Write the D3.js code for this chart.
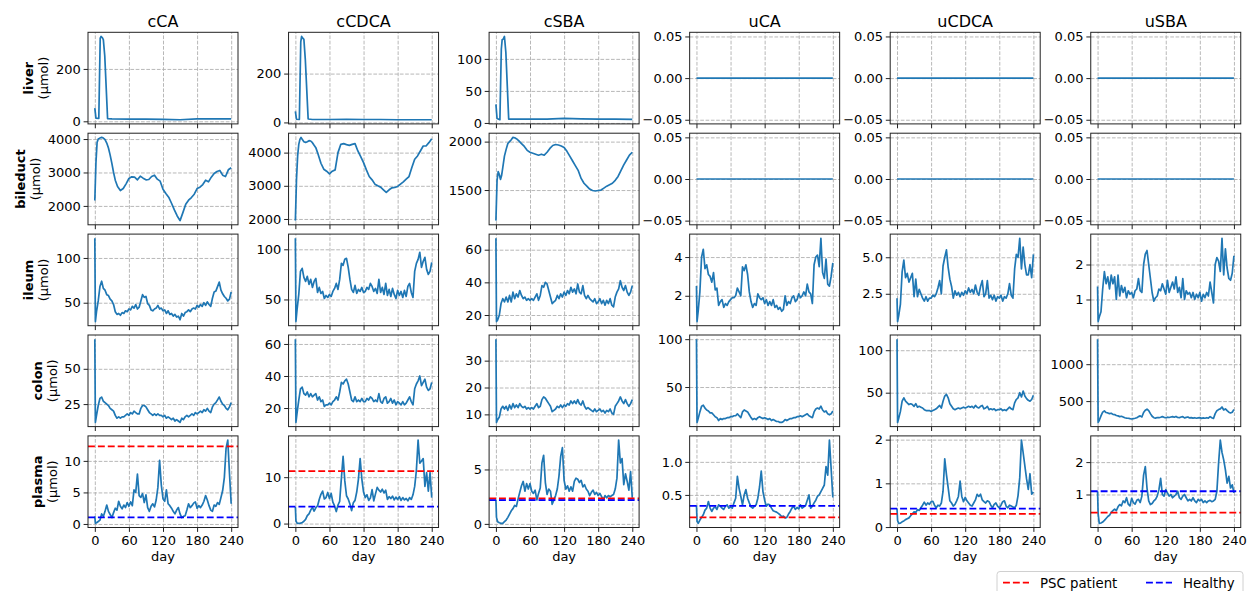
<!DOCTYPE html>
<html><head><meta charset="utf-8">
<script src="https://cdn.jsdelivr.net/npm/d3@7"></script>
<style>
body{margin:0;background:#fff;}
svg text{font-family:"DejaVu Sans",sans-serif;fill:#000;}
</style></head><body><svg id="c" width="1247" height="591"></svg>
<script>
// ---------------- data ----------------
const columns = ["cCA","cCDCA","cSBA","uCA","uCDCA","uSBA"];
const rows = ["liver","bileduct","ileum","colon","plasma"];
const dayTicks = [0,60,120,180,240];

const liverDays = [0,2,7,9.5,11,13,15,17.5,22.5,30,60,90,120,150,180,210,240];
const liverCCA   = [50,12,11,318,324,320,312,250,10,9,8.5,8,7.5,6,9,9.5,9];
const liverCCDCA = [45,13,12,330,352,345,340,258,14,12,12,13,12,12,11,11,11];
const liverCSBA  = [29,7,5,115,130,131,135,110,6,6,6,6,7,6.5,6,6,5.5];

const bileDays = [0,2,4,6,8,10,12,15,18,21,24,27,30,33,36,40,45,50,55,60,65,70,75,80,85,90,95,100,105,110,115,120,125,130,135,140,145,150,155,160,165,170,175,180,185,190,195,200,205,210,215,220,225,230,235,240];
const bileCCA = [2160,3300,3900,4000,4020,4040,4050,4030,3980,3880,3730,3520,3270,3000,2770,2580,2460,2520,2660,2820,2870,2860,2780,2890,2830,2780,2790,2880,2920,2800,2740,2500,2370,2260,2080,1880,1700,1560,1800,2050,2170,2250,2350,2520,2560,2640,2770,2720,2860,2970,3030,3060,2920,2880,3080,3140];
const bileCCDCA = [1950,3200,3900,4250,4400,4460,4400,4330,4310,4330,4360,4350,4300,4220,4150,3950,3680,3500,3440,3360,3440,3480,4000,4250,4270,4240,4220,4250,4270,4050,3880,3700,3480,3280,3180,3050,3000,2960,2880,2800,2880,2940,2950,2980,3050,3120,3200,3280,3550,3800,3900,4050,4200,4200,4300,4420];
const bileCSBA = [1184,1600,1690,1660,1610,1650,1730,1850,1920,1980,2000,2020,2044,2040,2030,2010,1980,1950,1910,1890,1880,1870,1860,1870,1860,1890,1930,1960,1970,1965,1955,1940,1900,1850,1800,1750,1700,1620,1570,1540,1510,1495,1490,1495,1500,1520,1540,1555,1570,1600,1640,1700,1760,1810,1860,1890];

const zeroDays = [0,240];
const zeroVals = [0,0];

const days = [0,1,3,6,9,12,15,18,21,24,27,30,33,36,39,42,45,48,51,54,57,60,63,66,69,72,75,78,81,84,87,90,93,96,99,102,105,108,111,114,117,120,123,126,129,132,135,138,141,144,147,150,153,156,159,162,165,168,171,174,177,180,183,186,189,192,195,198,201,204,207,210,213,216,219,222,225,228,231,234,237,240];

const ileumCCA = [122,29,40,52,68,74,66,64,59,58, 54,52,48,40,37,38,36,39,38,41, 40,43,42,46,44,48,43,45,52,59, 56,57,49,47,42,41,43,44,47,43, 44,41,42,38,41,37,38,35,37,34, 35,31,38,35,39,40,42,40,43,44, 43,47,45,48,46,50,47,51,48,46, 55,62,63,68,73,64,60,57,55,52, 54,62];
const colonCCA = [71,12,17,24,29,30,27,26,25,24, 22,21,20,17,15,16,15,16,16,17, 18,17,19,18,20,19,18,18,22,24, 24,23,21,19,18,17,18,17,18,17, 17,16,17,15,16,15,14,15,13,14, 13,12,15,14,16,17,16,17,18,17, 19,18,19,20,19,21,20,22,20,19, 23,25,26,28,30,27,25,24,22,21, 23,26];
const plasmaCCA = [1.2,0.1,0.2,0.4,0.6,1.6,1.2,2.0,3.0,2.0, 1.5,1.0,1.8,2.5,2.2,3.6,2.8,2.4,3.0,2.6, 3.4,2.8,3.5,2.9,5.4,5.0,7.9,4.5,4.2,4.8, 3.4,4.6,2.6,2.0,2.8,3.2,2.7,3.8,5.8,10.1, 6.2,4.0,3.6,5.4,3.2,2.9,2.5,2.0,1.6,2.2, 2.6,1.6,1.0,1.2,1.3,2.2,3.2,2.6,2.9,3.3, 3.5,2.5,2.9,2.6,3.0,3.6,4.5,3.8,2.9,2.2, 2.0,3.0,2.8,3.4,3.1,4.2,5.3,7.4,12.0,13.3, 8.0,3.2];

const ileumCCDCA = [111,28,40,55,78,81,72,68,73,65, 70,62,68,71,57,62,56,58,51,54, 52,55,53,58,61,66,60,70,86,84, 90,91,82,70,60,57,64,56,60,58, 62,57,58,62,60,66,63,58,61,56, 70,57,62,55,66,54,60,53,61,55, 51,59,54,58,52,59,53,63,66,57, 52,78,86,90,97,82,88,92,80,75, 78,87];
const colonCCDCA = [63,11,17,25,32,33,29,28,30,27, 29,27,28,29,25,27,24,25,21,22, 22,23,22,24,25,27,25,30,36,35, 37,38,35,30,25,24,27,24,25,24, 26,24,24,26,25,27,26,24,25,24, 29,24,23,26,27,23,24,26,23,25, 22,24,23,22,24,22,23,25,27,24, 22,32,35,37,40,34,36,38,33,31, 32,36];
const plasmaCCDCA = [3.6,0.6,0.1,0.05,0.1,0.2,0.5,0.9,1.7,2.1, 2.9,3.5,2.7,3.4,3.8,5.2,6.3,7.0,5.3,5.6, 6.7,5.4,6.5,4.6,3.8,2.6,4.0,4.8,9.8,14.5, 9.2,6.0,5.3,4.2,2.8,4.5,5.0,6.8,9.6,14.0, 9.6,6.8,5.6,6.2,5.0,5.5,7.3,4.9,6.4,7.8, 7.2,6.8,7.4,6.6,7.2,5.2,5.8,5.4,5.9,5.1, 5.7,5.2,5.8,5.0,5.6,5.1,5.4,4.9,5.6,5.2, 6.2,8.0,11.5,18.0,13.0,13.5,14.0,8.0,11.0,7.0, 11.0,5.6];

const ileumCSBA = [67,16,17,20,27,30,28,31,28,32, 28,34,30,33,31,35,32,30,31,29, 30,29,30,29,31,33,29,32,38,37, 40,39,35,31,27,28,29,32,30,33, 31,34,32,35,33,37,34,36,33,39, 34,33,38,32,30,32,30,29,28,30, 27,28,30,27,29,26,29,27,30,26, 25,31,34,36,41,37,35,38,34,32, 34,38];
const colonCSBA = [38,7,8,9,12,13,12,13,11.5,13.5, 12,14,12.5,13.5,12.5,14,13,12.5,13,12, 12.5,12,12.5,12,13,14,12.5,13,15.5,16.5, 16,15,14,13,11,11.5,12,13,12.5,13.5, 12.5,13.5,13,14,13.5,15,14,15,14,15.5, 14,13.5,15,13,12,12.5,12,11.5,11,12, 11,11.5,12,11,11.5,10.5,11.5,11,12,10.5, 10,13,14,15,16.5,15,14,15.5,14,13, 14,15.5];
const plasmaCSBA = [2.2,0.6,0.2,0.1,0.05,0.05,0.2,0.35,0.6,0.9, 1.2,1.4,1.7,1.6,2.3,2.9,3.5,3.9,3.0,3.7, 3.2,3.7,3.0,2.8,3.1,2.2,2.8,3.3,5.6,6.3, 3.8,2.7,3.2,3.0,1.8,2.2,2.6,3.2,4.4,6.2, 7.0,4.0,3.2,3.5,3.0,3.4,3.0,3.9,4.2,4.1, 3.8,4.0,3.4,3.6,3.2,3.0,2.6,2.9,3.1,2.7, 2.9,2.6,2.8,2.5,2.2,2.6,2.4,2.6,2.5,2.6, 2.7,3.2,4.2,7.7,5.6,6.0,3.6,4.6,3.9,3.1, 4.8,2.4];

const ileumUCA = [2.5,0.67,1.2,2.2,4.0,4.4,3.4,3.6,3.1,3.0, 2.7,3.2,2.3,2.4,1.5,1.7,1.8,1.4,1.6,1.5, 1.7,1.8,1.9,1.9,2.0,2.4,2.2,2.0,3.5,3.3, 3.6,3.1,2.2,1.7,1.4,1.6,1.5,2.1,1.9,1.8, 1.9,1.6,1.8,1.5,1.7,1.5,1.8,1.4,1.5,1.3, 1.4,1.2,1.3,2.0,1.5,1.7,1.6,1.9,2.0,1.7, 1.8,2.1,1.9,2.0,2.2,2.0,2.6,2.2,2.1,1.6, 3.6,4.0,4.1,3.5,4.97,3.2,2.9,3.9,2.6,2.5, 3.0,3.7];
const colonUCA = [100,13,17,24,30,31,28,26,25,23, 23,21,19,18,15,17,16,17,17,18, 18,19,19,20,20,22,20,18,24,26, 25,24,21,18,16,17,16,18,19,18, 17,18,17,16,17,15,16,15,14,14, 13,13,14,16,15,16,17,17,18,18, 19,19,20,19,20,21,22,20,19,18, 24,27,28,27,30,26,24,25,22,21, 22,25];
const plasmaUCA = [0.34,0.1,0.07,0.12,0.16,0.2,0.27,0.3,0.4,0.3, 0.25,0.3,0.32,0.28,0.35,0.33,0.3,0.28,0.33,0.35, 0.3,0.32,0.3,0.38,0.45,0.78,0.6,0.48,0.35,0.5, 0.58,0.45,0.38,0.32,0.3,0.33,0.35,0.45,0.62,0.86, 0.55,0.42,0.33,0.36,0.35,0.3,0.26,0.25,0.24,0.22, 0.2,0.17,0.18,0.15,0.16,0.21,0.25,0.3,0.33,0.28, 0.31,0.29,0.35,0.3,0.32,0.34,0.42,0.5,0.3,0.33, 0.38,0.42,0.48,0.5,0.55,0.6,0.65,0.93,0.8,1.33, 0.9,0.46];

const ileumUCDCA = [2.2,0.6,1.0,1.8,4.0,4.8,3.6,3.9,3.3,3.6, 3.9,2.3,3.5,2.3,2.8,2.5,2.2,2.0,2.3,2.0, 2.2,2.2,2.4,2.3,2.5,2.9,3.4,2.5,4.4,5.0, 5.5,4.3,3.5,3.0,2.2,2.7,2.4,2.6,2.3,2.6, 2.4,2.7,2.5,2.9,2.6,2.8,2.5,3.1,2.6,2.4, 3.0,3.4,2.3,2.5,3.4,2.2,2.4,2.1,2.4,2.0, 2.3,2.2,2.4,2.0,2.3,2.2,2.5,3.2,2.4,2.2, 4.2,5.2,5.0,6.3,4.2,5.7,4.5,3.8,3.8,4.5, 3.6,5.2];
const colonUCDCA = [113,15,20,28,40,44,40,38,36,37, 36,34,37,33,34,33,32,30,29,29, 29,28,29,30,31,33,35,32,40,46, 48,44,37,34,31,30,31,32,31,32, 33,32,33,34,33,34,32,35,33,32, 34,35,31,32,34,30,31,30,31,29, 30,30,31,29,30,29,31,33,31,30, 38,42,44,50,45,52,46,43,41,40, 42,47];
const plasmaUCDCA = [0.42,0.15,0.085,0.09,0.12,0.14,0.17,0.19,0.21,0.26, 0.3,0.35,0.33,0.4,0.38,0.44,0.5,0.57,0.5,0.55, 0.52,0.58,0.59,0.5,0.44,0.5,0.48,0.55,0.82,1.56, 1.2,0.9,0.6,0.55,0.48,0.52,0.6,0.7,1.05,0.7, 0.58,0.68,0.6,0.55,0.5,0.48,0.55,0.62,0.75,0.7, 0.75,0.62,0.58,0.55,0.6,0.58,0.5,0.44,0.52,0.55, 0.48,0.44,0.5,0.58,0.6,0.48,0.44,0.5,0.48,0.46, 0.44,0.5,0.72,1.13,1.99,1.7,1.4,1.1,0.86,1.22, 0.75,0.8];

const ileumUSBA = [1.37,0.37,0.5,0.65,1.3,1.8,1.45,1.65,1.3,1.7, 1.45,1.65,1.0,1.7,1.1,1.4,1.2,1.35,1.05,1.25, 1.15,1.2,1.05,1.25,1.3,1.6,1.25,1.2,2.0,2.3, 2.4,2.0,1.6,1.2,0.95,1.05,1.1,1.3,1.25,1.45, 1.3,1.15,1.55,1.2,1.35,1.5,1.3,1.65,1.2,1.35, 1.05,1.6,1.0,1.25,1.15,1.2,1.05,1.2,1.0,1.15, 1.05,1.2,0.95,1.15,1.05,1.2,1.1,1.5,1.2,0.9, 2.0,2.2,2.1,1.8,2.75,1.7,2.45,1.9,1.6,1.55, 1.75,2.25];
const colonUSBA = [1339,211,240,300,350,366,345,340,330,335, 320,318,305,300,290,295,285,275,270,268, 262,258,262,268,275,290,300,285,345,375, 390,370,330,295,275,270,278,275,282,290, 280,275,282,278,285,290,282,292,278,275, 285,290,272,280,285,272,276,270,275,268, 272,276,266,272,268,275,270,290,275,265, 330,370,385,395,420,380,395,370,350,340, 350,385];
const plasmaUSBA = [1.1,0.4,0.11,0.12,0.15,0.2,0.26,0.32,0.36,0.45, 0.5,0.55,0.5,0.62,0.69,0.65,0.8,0.75,0.9,0.7, 0.65,0.88,0.75,0.7,0.82,0.85,0.75,0.95,1.6,1.86, 1.2,0.8,0.69,0.72,0.8,0.85,0.95,1.15,1.5,1.0, 0.95,1.15,1.05,0.95,1.0,0.9,0.95,1.0,1.1,0.9, 0.85,0.95,1.0,0.9,0.8,0.85,0.8,0.9,0.8,0.75, 0.85,0.8,0.85,0.75,0.8,0.75,0.8,0.82,0.78,0.8, 0.85,1.1,1.97,2.68,2.3,2.07,1.76,1.35,1.56,1.2, 1.3,1.05];

const pscLevel     = [12.3, 11.3, 2.33, 0.16, 0.30, 0.44];
const healthyLevel = [1.05, 3.65, 2.18, 0.333, 0.42, 1.10];

const zeroTicks = ["−0.05","0.00","0.05"];
const yTickLabels = [
  [["0","200"],["0","200"],["0","50","100"],zeroTicks,zeroTicks,zeroTicks],
  [["2000","3000","4000"],["2000","3000","4000"],["1500","2000"],zeroTicks,zeroTicks,zeroTicks],
  [["50","100"],["50","100"],["20","40","60"],["2","4"],["2.5","5.0"],["1","2"]],
  [["25","50"],["20","40","60"],["10","20","30"],["50","100"],["50","100"],["500","1000"]],
  [["0","5","10"],["0","10"],["0","5"],["0.5","1.0"],["0","1","2"],["1","2"]]
];

// table of series built from the arrays
const seriesTable = [
  [[liverDays,liverCCA],[liverDays,liverCCDCA],[liverDays,liverCSBA],[zeroDays,zeroVals],[zeroDays,zeroVals],[zeroDays,zeroVals]],
  [[bileDays,bileCCA],[bileDays,bileCCDCA],[bileDays,bileCSBA],[zeroDays,zeroVals],[zeroDays,zeroVals],[zeroDays,zeroVals]],
  [[days,ileumCCA],[days,ileumCCDCA],[days,ileumCSBA],[days,ileumUCA],[days,ileumUCDCA],[days,ileumUSBA]],
  [[days,colonCCA],[days,colonCCDCA],[days,colonCSBA],[days,colonUCA],[days,colonUCDCA],[days,colonUSBA]],
  [[days,plasmaCCA],[days,plasmaCCDCA],[days,plasmaCSBA],[days,plasmaUCA],[days,plasmaUCDCA],[days,plasmaUSBA]]
];

// ---------------- layout ----------------
const left0 = 88, stepX = 200.55, pw = 150;
const top0 = 32.3, stepY = 100.9, ph = 91.6;
const rowLabelX = [33.3, 25, 33.3, 41.7, 41.7];
const FS = 13;

const svg = d3.select("#c");
const num = s => +s.replace("−","-");

columns.forEach((c,i)=>{
  svg.append("text").attr("x", left0+i*stepX+pw/2).attr("y",26.7)
    .attr("text-anchor","middle").attr("font-size",16).text(c);
});

rows.forEach((r,j)=>{
  const top = top0 + j*stepY, cy = top + ph/2;
  const lab = svg.append("g").attr("font-size",FS);
  lab.append("text").attr("transform",`translate(${rowLabelX[j]},${cy}) rotate(-90)`)
    .attr("text-anchor","middle").attr("font-weight","bold").text(r);
  lab.append("text").attr("transform",`translate(${rowLabelX[j]+14.8},${cy}) rotate(-90)`)
    .attr("text-anchor","middle").text("(µmol)");

  columns.forEach((c,i)=>{
    const left = left0 + i*stepX;
    const [dx, vals] = seriesTable[j][i];
    const g = svg.append("g");
    const x = d3.scaleLinear().domain([-12,252]).range([left,left+pw]);
    let ext = d3.extent(vals);
    if (r==="plasma") ext = d3.extent(vals.concat([pscLevel[i],healthyLevel[i]]));
    let y;
    if (ext[0]===ext[1]) y = d3.scaleLinear().domain([-0.055,0.055]).range([top+ph,top]);
    else { const p=(ext[1]-ext[0])*0.05; y = d3.scaleLinear().domain([ext[0]-p,ext[1]+p]).range([top+ph,top]); }
    const labels = yTickLabels[j][i];
    const tv = labels.map(num);

    // grid
    const gx = g.append("g").attr("transform",`translate(0,${top+ph})`)
      .call(d3.axisBottom(x).tickValues(dayTicks).tickSize(-ph).tickFormat(""));
    const gy = g.append("g").attr("transform",`translate(${left},0)`)
      .call(d3.axisLeft(y).tickValues(tv).tickSize(-pw).tickFormat(""));
    [gx,gy].forEach(a=>{ a.select(".domain").remove();
      a.selectAll("line").attr("stroke","#b0b0b0").attr("stroke-width",0.9).attr("stroke-dasharray","3.7,1.6"); });

    // data line
    const pts = dx.map((d,k)=>[d, vals[k]]);
    g.append("path").datum(pts).attr("fill","none").attr("stroke","#1f77b4")
      .attr("stroke-width",1.7).attr("stroke-linejoin","round")
      .attr("d", d3.line().x(d=>x(d[0])).y(d=>y(d[1])));

    if (r==="plasma") {
      [[pscLevel[i],"#ff0000"],[healthyLevel[i],"#0000ff"]].forEach(([v,col])=>{
        g.append("line").attr("x1",left).attr("x2",left+pw).attr("y1",y(v)).attr("y2",y(v))
          .attr("stroke",col).attr("stroke-width",1.8).attr("stroke-dasharray","6.9,3");
      });
    }

    // frame
    g.append("rect").attr("x",left).attr("y",top).attr("width",pw).attr("height",ph)
      .attr("fill","none").attr("stroke","#222").attr("stroke-width",1);

    // axes
    const ay = g.append("g").attr("transform",`translate(${left},0)`)
      .call(d3.axisLeft(y).tickValues(tv).tickSize(4.4).tickPadding(2.8).tickSizeOuter(0)
        .tickFormat((d,k)=>labels[k]));
    const ax = g.append("g").attr("transform",`translate(0,${top+ph})`)
      .call(d3.axisBottom(x).tickValues(dayTicks).tickSize(4.4).tickPadding(4.2).tickSizeOuter(0)
        .tickFormat(j===rows.length-1 ? d3.format("d") : ""));
    [ax,ay].forEach(a=>{ a.select(".domain").remove();
      a.selectAll("line").attr("stroke","#222").attr("stroke-width",1);
      a.selectAll("text").attr("font-size",FS).attr("font-family","DejaVu Sans").attr("fill","#000"); });

    if (j===rows.length-1) {
      g.append("text").attr("x",left+pw/2).attr("y",561).attr("text-anchor","middle")
        .attr("font-size",FS).text("day");
    }
  });
});

// legend
const lg = svg.append("g");
lg.append("rect").attr("x",997).attr("y",571.5).attr("width",246).attr("height",27).attr("rx",3)
  .attr("fill","#fff").attr("stroke","#d0d0d0").attr("stroke-width",1);
[["PSC patient","#ff0000",1003,1040],["Healthy","#0000ff",1146,1183]].forEach(([t,col,x0,tx])=>{
  lg.append("line").attr("x1",x0).attr("x2",x0+26).attr("y1",582.7).attr("y2",582.7)
    .attr("stroke",col).attr("stroke-width",1.8).attr("stroke-dasharray","6.9,3");
  lg.append("text").attr("x",tx).attr("y",587.5).attr("font-size",13.3).text(t);
});
</script></body></html>
